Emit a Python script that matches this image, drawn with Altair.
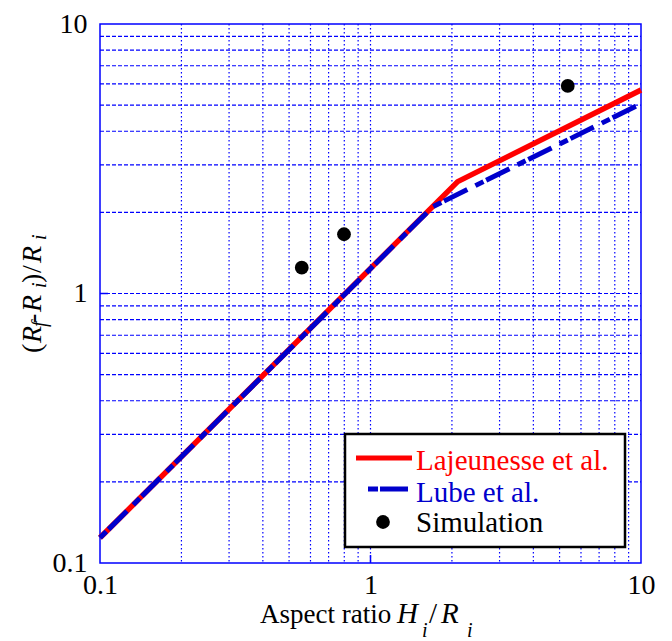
import altair as alt
import pandas as pd

# Spreading laws and simulation results (log-log)
aspect_lajeunesse = [0.1, 2.1, 10.0]
spread_lajeunesse = [0.124, 2.6, 5.69]
aspect_lube = [0.1, 1.7, 10.0]
spread_lube = [0.124, 2.1, 5.06]
aspect_sim = [0.557, 0.798, 5.36]
spread_sim = [1.247, 1.659, 5.89]

grid_values = [0.2, 0.3, 0.4, 0.5, 0.6, 0.7, 0.8, 0.9, 1, 2, 3, 4, 5, 6, 7, 8, 9]
tick_values = [0.1, 1, 10]

W, H = 541, 539
SERIF = "Liberation Serif"
FS = 28
BLUE_GRID = "#0000ff"

xscale = alt.Scale(type="log", domain=[0.1, 10], nice=False)
yscale = alt.Scale(type="log", domain=[0.1, 10], nice=False)
xaxis = alt.Axis(values=tick_values, format="~g", title=None, grid=False, ticks=False,
                 domain=False, labelFont=SERIF, labelFontSize=FS, labelColor="black",
                 labelPadding=8, labelFlush=False, labelOverlap=False)
yaxis = alt.Axis(values=tick_values, format="~g", title=None, grid=False, ticks=False,
                 domain=False, labelFont=SERIF, labelFontSize=FS, labelColor="black",
                 labelPadding=13, labelFlush=False, labelOverlap=False)


def X(field):
    return alt.X(field, type="quantitative", scale=xscale, axis=xaxis)


def Y(field):
    return alt.Y(field, type="quantitative", scale=yscale, axis=yaxis)


one = alt.Data(values=[{"k": 0}])

# dotted vertical and dashed horizontal grid
vgrid = alt.Chart(pd.DataFrame({"g": grid_values})).mark_rule(
    color=BLUE_GRID, strokeWidth=1.2, strokeDash=[1.5, 2.5]
).encode(x=X("g"), y=alt.value(0), y2=alt.value(H))
hgrid = alt.Chart(pd.DataFrame({"g": grid_values})).mark_rule(
    color=BLUE_GRID, strokeWidth=1.2, strokeDash=[4, 2]
).encode(y=Y("g"), x=alt.value(0), x2=alt.value(W))

# inward major ticks
xtick = alt.Chart(pd.DataFrame({"t": [1]})).mark_rule(color=BLUE_GRID, strokeWidth=1.5).encode(
    x=X("t"), y=alt.value(H - 8), y2=alt.value(H))
ytick = alt.Chart(pd.DataFrame({"t": [1]})).mark_rule(color=BLUE_GRID, strokeWidth=1.5).encode(
    y=Y("t"), x=alt.value(0), x2=alt.value(8))

laj = alt.Chart(pd.DataFrame({"a": aspect_lajeunesse, "s": spread_lajeunesse})).mark_line(
    color="#ff0000", strokeWidth=5.5
).encode(x=X("a"), y=Y("s"))
lube = alt.Chart(pd.DataFrame({"a": aspect_lube, "s": spread_lube})).mark_line(
    color="#0000cc", strokeWidth=5, strokeDash=[9, 3, 26, 9]
).encode(x=X("a"), y=Y("s"))
sim = alt.Chart(pd.DataFrame({"a": aspect_sim, "s": spread_sim})).mark_circle(
    size=190, color="black", opacity=1
).encode(x=X("a"), y=Y("s"))

# legend box
box = alt.Chart(one).mark_rect(fill="white", stroke="black", strokeWidth=2.5).encode(
    x=alt.value(245), x2=alt.value(525), y=alt.value(410), y2=alt.value(523))
leg_red = alt.Chart(one).mark_rule(color="#ff0000", strokeWidth=5).encode(
    x=alt.value(256), x2=alt.value(312), y=alt.value(434))
leg_blue = alt.Chart(one).mark_rule(color="#0000cc", strokeWidth=5, strokeDash=[10, 2, 28, 10]).encode(
    x=alt.value(268), x2=alt.value(308), y=alt.value(465))
leg_dot = alt.Chart(one).mark_circle(size=190, color="black", opacity=1).encode(
    x=alt.value(283), y=alt.value(498))


def label(txt, x, y, size=FS, italic=False, angle=0, color="black"):
    kw = dict(text=txt, font=SERIF, fontSize=size, color=color, align="left",
              baseline="alphabetic", angle=angle)
    if italic:
        kw["fontStyle"] = "italic"
    return alt.Chart(one).mark_text(**kw).encode(x=alt.value(x), y=alt.value(y))


legend_texts = [
    label("Lajeunesse et al.", 316, 446, size=29, color="#ff0000"),
    label("Lube et al.", 316, 478, size=29, color="#0000cc"),
    label("Simulation", 316, 508, size=29),
]

SUB = 20
xtitle = [
    label("Aspect ratio", 160, 599, size=27),
    label("H", 297, 599, size=29, italic=True),
    label("i", 322, 613, size=SUB, italic=True),
    label("/", 329, 599, size=29),
    label("R", 341, 599, size=29, italic=True),
    label("i", 367, 613, size=SUB, italic=True),
]

bx, sx = -59, -54
ytitle = [
    label("(", bx, 329, angle=270),
    label("R", bx, 319, italic=True, angle=270),
    label("f", sx, 303, size=SUB, italic=True, angle=270),
    label("-", bx, 299, angle=270),
    label("R", bx, 288, italic=True, angle=270),
    label("i", sx, 264, size=SUB, italic=True, angle=270),
    label(")", bx, 259, angle=270),
    label("/", bx, 249, angle=270),
    label("R", bx, 239, italic=True, angle=270),
    label("i", sx, 216, size=SUB, italic=True, angle=270),
]

chart = alt.layer(
    vgrid, hgrid, xtick, ytick, laj, lube, sim,
    box, leg_red, leg_blue, leg_dot, *legend_texts, *xtitle, *ytitle
).properties(
    width=W, height=H,
    autosize=alt.AutoSizeParams(type="none"),
    padding={"left": 100, "top": 24, "right": 31, "bottom": 78},
    background="white",
).configure_view(stroke=BLUE_GRID, strokeWidth=1.5)

chart.save("out.html", embed_options={"renderer": "svg", "actions": False})
